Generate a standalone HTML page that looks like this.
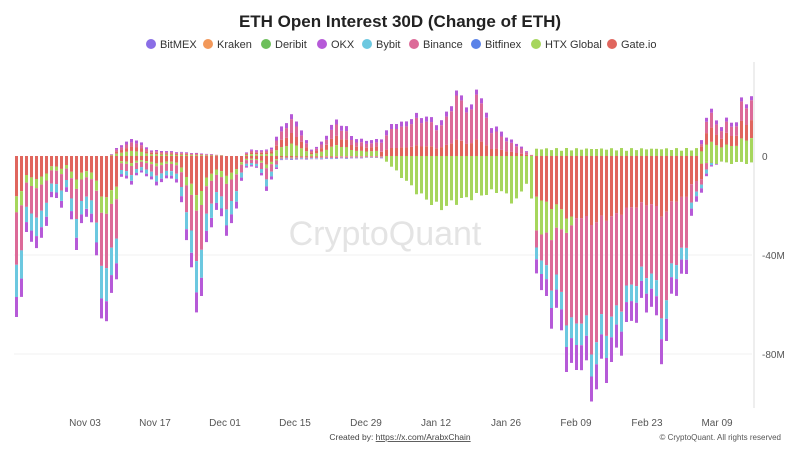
<!DOCTYPE html>
<html><head><meta charset="utf-8"><style>
body{margin:0;background:#fff;width:800px;height:450px;overflow:hidden;font-family:"Liberation Sans",sans-serif}
</style></head><body>
<svg id="c" width="800" height="450" xmlns="http://www.w3.org/2000/svg" font-family="Liberation Sans, sans-serif">
<text x="400" y="27" text-anchor="middle" font-size="17" font-weight="bold" fill="#222">ETH Open Interest 30D (Change of ETH)</text>
<g font-size="11" fill="#333">
<circle cx="151" cy="44" r="5" fill="#8a6ee6"/><text x="160" y="48">BitMEX</text>
<circle cx="208" cy="44" r="5" fill="#f2985a"/><text x="217" y="48">Kraken</text>
<circle cx="266" cy="44" r="5" fill="#6cbf5a"/><text x="275" y="48">Deribit</text>
<circle cx="322" cy="44" r="5" fill="#b65ad8"/><text x="331" y="48">OKX</text>
<circle cx="367" cy="44" r="5" fill="#6cc8e0"/><text x="376" y="48">Bybit</text>
<circle cx="414" cy="44" r="5" fill="#dc6a98"/><text x="423" y="48">Binance</text>
<circle cx="476" cy="44" r="5" fill="#5a82e8"/><text x="485" y="48">Bitfinex</text>
<circle cx="536" cy="44" r="5" fill="#a6d65c"/><text x="545" y="48">HTX Global</text>
<circle cx="612" cy="44" r="5" fill="#e0665e"/><text x="621" y="48">Gate.io</text>
</g>
<line x1="14" y1="255" x2="752" y2="255" stroke="#f0f0f0"/>
<line x1="14" y1="354" x2="752" y2="354" stroke="#f0f0f0"/>
<line x1="754" y1="62" x2="754" y2="408" stroke="#ddd"/>
<text x="385" y="245" text-anchor="middle" font-size="34" fill="#e4e4e4">CryptoQuant</text>
<g id="bars"></g>
<g font-size="10" fill="#555">
<text x="762" y="160">0</text><text x="762" y="259">-40M</text><text x="762" y="358">-80M</text>
</g>
<g font-size="10" fill="#555" text-anchor="middle">
<text x="85" y="426">Nov 03</text><text x="155" y="426">Nov 17</text><text x="225" y="426">Dec 01</text><text x="295" y="426">Dec 15</text><text x="366" y="426">Dec 29</text><text x="436" y="426">Jan 12</text><text x="506" y="426">Jan 26</text><text x="576" y="426">Feb 09</text><text x="647" y="426">Feb 23</text><text x="717" y="426">Mar 09</text>
</g>
<text x="400" y="440" text-anchor="middle" font-size="8.5" fill="#444">Created by: <tspan text-decoration="underline">https://x.com/ArabxChain</tspan></text>
<text x="781" y="440" text-anchor="end" font-size="8" fill="#555">© CryptoQuant. All rights reserved</text>
</svg>
<script>
function interp(p,x){if(x<=p[0][0])return p[0][1];for(let i=1;i<p.length;i++){if(x<=p[i][0]){const a=p[i-1],b=p[i];return a[1]+(b[1]-a[1])*(x-a[0])/(b[0]-a[0]);}}return p[p.length-1][1];}
const neg=[[16,318],[20,310],[25,240],[30,235],[35,245],[40,250],[45,230],[50,200],[55,195],[60,210],[65,190],[70,205],[75,250],[80,235],[85,215],[90,210],[95,250],[100,290],[105,345],[110,290],[115,310],[120,180],[125,175],[130,185],[135,180],[140,170],[150,180],[160,185],[170,175],[180,190],[185,225],[190,268],[195,295],[200,318],[205,255],[210,225],[215,215],[220,210],[225,230],[230,235],[235,215],[240,185],[245,170],[250,165],[260,170],[265,190],[270,185],[280,160],[380,158],[385,160],[390,165],[400,175],[410,185],[420,195],[440,208],[460,200],[480,195],[500,190],[515,203],[520,195],[530,175],[535,265],[540,280],[545,300],[550,325],[555,300],[560,335],[565,348],[570,375],[575,378],[580,352],[585,372],[590,392],[595,388],[600,378],[605,365],[610,372],[615,360],[620,342],[625,340],[630,320],[640,312],[650,300],[655,320],[660,340],[665,370],[670,300],[675,290],[680,278],[685,295],[690,215],[695,210],[700,195],[705,180],[710,168],[720,162],[752,160]];
const pos=[[16,156],[110,156],[115,150],[120,145],[135,138],[150,150],[240,156],[250,150],[270,150],[280,130],[290,115],[300,125],[310,150],[320,145],[335,120],[345,125],[350,135],[360,140],[380,140],[395,120],[400,125],[410,118],[420,115],[430,118],[440,125],[450,105],[460,90],[465,100],[470,120],[475,80],[480,95],[485,110],[490,125],[500,130],[510,140],[520,145],[530,155],[540,152],[580,147],[650,148],[700,148],[705,125],[710,100],[715,120],[720,130],[725,115],[735,130],[740,95],[745,110],[752,90]];
let s='';const Z=156;
function r(x,y1,y2,c){if(Math.abs(y2-y1)<0.3)return;const a=Math.min(y1,y2),h=Math.abs(y2-y1);s+=`<rect x="${x}" y="${a.toFixed(1)}" width="3" height="${h.toFixed(1)}" fill="${c}"/>`;}
for(let i=0;i<148;i++){const x=15+i*5;const j=1+0.08*Math.sin(i*2.3);
 let b=Z+(interp(neg,x+1.5)-Z)*j; let t=Z-(Z-interp(pos,x+1.5))*j;
 let d=b-Z;
 if(x>=383&&x<=530){
   r(x,Z,b,'#a6d65c');
 } else if(x>=533&&x<=700){
   let red=Math.min(d,d*0.22+15),gr=(x<575?Math.min(50,d*0.3)*(578-x)/45:0);
   let pu=Math.min(25,d*0.12),cy=Math.min(22,d*0.1);
   let y=Z;r(x,y,y+red,'#e0665e');y+=red;r(x,y,y+gr,'#a6d65c');y+=gr;
   r(x,y,b-pu-cy,'#dc6a98');r(x,b-pu-cy,b-pu,'#6cc8e0');r(x,b-pu,b,'#b65ad8');
   r(x,Z,Z-5-3*Math.abs(Math.sin(i*1.7)),'#a6d65c');
 } else if(d>1){
   let red=d*0.25,gr=d*0.1,pu=Math.min(20,d*0.13),cy=d*0.2;
   let y=Z;r(x,y,y+red,'#e0665e');y+=red;r(x,y,y+gr,'#a6d65c');y+=gr;
   r(x,y,b-pu-cy,'#dc6a98');r(x,b-pu-cy,b-pu,'#6cc8e0');r(x,b-pu,b,'#b65ad8');
 }
 let h=Z-t;
 if(h>1){
   if(x>=700){r(x,Z,Z+4+4*Math.abs(Math.sin(i)),'#a6d65c');r(x,Z,Z-h*0.3,'#a6d65c');r(x,Z-h*0.3,Z-h*0.6,'#e0665e');r(x,Z-h*0.6,t+4,'#dc6a98');r(x,t+4,t,'#b65ad8');}
   else if(x>=533){}
   else{let g=x<380?h*0.3:0;r(x,Z,Z-g,'#a6d65c');r(x,Z-g,Z-g-h*0.25,'#e0665e');r(x,Z-g-h*0.25,t+Math.min(5,h*0.2),'#dc6a98');r(x,t+Math.min(5,h*0.2),t,'#b65ad8');}
 }
}
document.getElementById('bars').innerHTML=s;
</script>
</body></html>
